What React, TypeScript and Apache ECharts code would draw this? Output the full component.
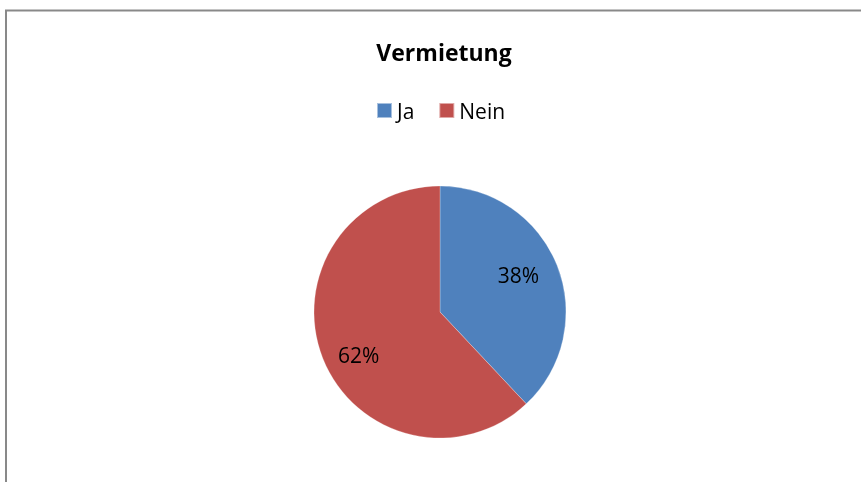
import React, { useEffect, useRef } from "react";
import * as echarts from "echarts";

const categories = ["Ja", "Nein"];
const values = [38, 62];
const colors = ["#4F81BD", "#C0504D"];
const labelOffsets = [[17, -13], [-20, 19]];

export default function App() {
  const ref = useRef<HTMLDivElement>(null);
  useEffect(() => {
    if (!ref.current) return;
    const chart = echarts.init(ref.current, null, { renderer: "svg" });
    chart.setOption({
      animation: false,
      textStyle: { fontFamily: "Open Sans" },
      title: {
        text: "Vermietung",
        left: 439,
        textAlign: "center",
        top: 35,
        textStyle: { fontSize: 23, fontWeight: "bold", color: "#000", fontFamily: "Open Sans" },
      },
      legend: {
        data: categories,
        left: 371,
        top: 95,
        itemWidth: 15,
        itemHeight: 15,
        itemGap: 24,
        icon: "rect",
        textStyle: { fontSize: 21, color: "#000", fontFamily: "Open Sans" },
      },
      graphic: [
        { type: "line", shape: { x1: 5, y1: 10.5, x2: 861, y2: 10.5 }, style: { stroke: "#898989", lineWidth: 2 } },
        { type: "line", shape: { x1: 6, y1: 10, x2: 6, y2: 482 }, style: { stroke: "#898989", lineWidth: 2 } },
      ],
      series: [
        {
          type: "pie",
          center: [440, 312],
          radius: 126,
          startAngle: 90,
          clockwise: true,
          label: {
            show: true,
            position: "inside",
            formatter: "{d}%",
            fontSize: 21,
            color: "#000",
            fontFamily: "Open Sans",
          },
          labelLine: { show: false },
          itemStyle: { borderColor: "rgba(255,255,255,0.5)", borderWidth: 0.5 },
          emphasis: { disabled: true },
          data: categories.map((c, i) => ({
            name: c,
            value: values[i],
            itemStyle: { color: colors[i] },
            label: { offset: labelOffsets[i] },
          })),
        },
      ],
    });
    return () => chart.dispose();
  }, []);
  return <div ref={ref} style={{ position: "fixed", left: 0, top: 0, width: 861, height: 482 }} />;
}
